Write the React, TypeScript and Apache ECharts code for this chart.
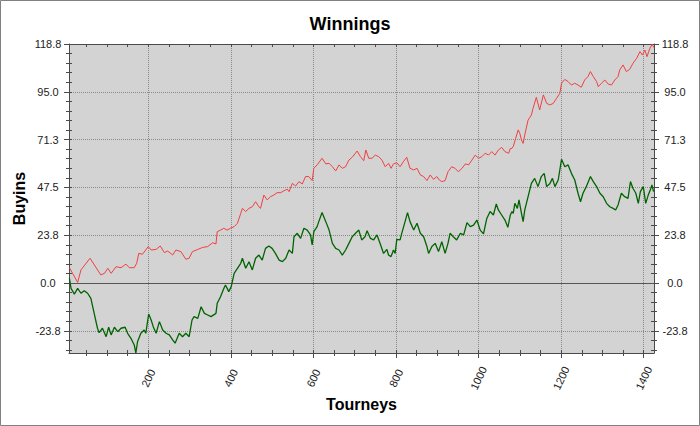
import React, { useEffect, useRef } from 'react';
import * as echarts from 'echarts';

const TITLE = 'Winnings';
const X_NAME = 'Tourneys';
const Y_NAME = 'Buyins';

const X_MIN = 8;
const X_MAX = 1425;
const Y_MIN = -34.8;
const Y_MAX = 118.8;

const X_TICKS = [200, 400, 600, 800, 1000, 1200, 1400];
const X_MINOR_STEP = 50;
const Y_TICKS = [-23.76, 0, 23.76, 47.52, 71.28, 95.04, 118.8];
const Y_MINOR_DIV = 5;

// [tourney, buyins]
const RED_SERIES: [number, number][] = [
  [9, 7.6], [29, 0.3], [37, 6.5], [59, 12.3], [85, 4.0], [94, 4.8], [102, 7.3], [110, 4.8], [122, 8.1], [134, 7.6],
  [146, 9.4], [154, 7.6], [166, 7.6], [172, 9.8], [177, 14.7], [186, 14.3], [200, 18.1], [207, 16.4], [219, 16.7], [229, 18.4],
  [239, 15.1], [247, 15.9], [259, 13.9], [267, 16.4], [279, 15.6], [291, 11.8], [299, 12.3], [307, 15.6], [320, 16.7], [332, 17.7],
  [344, 18.1], [356, 20.0], [364, 19.4],
  [367, 25.5], [375, 26.3], [383, 27.2], [391, 26.3], [399, 27.2], [408, 28.0], [416, 29.7], [424, 34.6], [428, 37.1], [436, 35.5],
  [444, 37.1], [452, 37.9], [460, 40.4], [468, 37.9], [472, 37.1], [480, 43.7], [488, 41.3], [496, 42.9], [504, 43.7], [512, 44.9],
  [521, 44.9], [529, 45.9], [537, 46.6], [541, 45.4], [549, 49.5], [557, 48.2], [565, 50.4], [573, 49.2], [581, 52.9], [589, 52.9],
  [597, 50.9], [601, 57.0], [609, 58.7], [621, 62.0], [630, 59.2], [638, 59.5], [646, 57.8], [654, 55.7], [662, 58.7], [670, 57.0],
  [678, 57.8], [686, 61.1], [694, 62.5], [706, 65.6], [714, 62.8], [722, 60.8],
  [727, 66.1], [734, 62.0], [742, 62.0], [750, 63.6], [758, 62.8], [766, 61.1], [774, 57.8], [782, 59.5], [788, 57.0], [794, 59.2],
  [802, 59.8], [810, 57.8], [818, 60.3], [826, 62.5], [834, 57.0], [843, 56.2], [851, 57.0], [859, 53.7], [867, 52.9], [875, 50.9],
  [883, 53.7], [891, 51.5], [899, 52.9], [905, 51.2], [911, 50.4], [919, 50.9], [926, 55.3], [935, 57.8], [943, 57.0], [951, 55.3],
  [960, 57.0], [968, 59.2], [976, 58.7], [984, 61.1], [992, 63.6], [1000, 62.0], [1008, 62.8], [1016, 64.5], [1024, 63.6], [1032, 65.3],
  [1040, 63.6], [1048, 66.1], [1056, 67.4], [1064, 65.3], [1073, 64.5], [1077, 66.9], [1081, 66.9],
  [1084, 67.8], [1090, 71.9], [1096, 76.1], [1100, 74.4], [1104, 71.1], [1108, 69.4], [1112, 73.6], [1120, 81.0], [1128, 83.5], [1132, 86.8],
  [1140, 92.3], [1148, 86.0], [1157, 93.5], [1165, 89.3], [1173, 88.5], [1181, 89.3], [1189, 91.8], [1197, 94.3], [1201, 99.3], [1209, 101.2],
  [1217, 100.1], [1225, 98.4], [1233, 99.3], [1241, 98.4], [1249, 97.3], [1257, 100.9], [1265, 102.6], [1271, 105.1], [1278, 102.6], [1286, 100.1],
  [1290, 97.6], [1298, 99.3], [1306, 100.9], [1314, 98.9], [1322, 98.4], [1330, 100.9], [1338, 102.6], [1342, 105.9], [1350, 108.4], [1358, 105.1],
  [1366, 106.2], [1374, 109.2], [1383, 111.7], [1391, 115.0], [1397, 113.3], [1403, 115.8], [1408, 112.5], [1415, 116.7], [1421, 118.8], [1424, 117.1],
];

const GREEN_SERIES: [number, number][] = [
  [9, 2.3], [13, -2.7], [21, -5.5], [29, -2.7], [37, -5.1], [45, -3.8], [53, -5.1], [61, -7.6], [69, -15.1], [77, -22.5],
  [81, -24.7], [89, -22.5], [98, -26.7], [104, -22.0], [110, -25.8], [118, -22.0], [126, -24.2], [134, -22.5], [144, -22.0], [150, -25.0],
  [158, -27.5], [166, -30.8], [170, -34.8], [174, -29.2], [182, -25.0], [190, -23.4], [194, -25.0], [201, -15.4], [207, -18.4], [212, -21.7],
  [219, -25.0], [227, -19.2], [235, -23.4], [243, -25.0], [251, -25.8], [259, -28.3], [265, -29.9], [275, -25.0], [283, -26.7], [291, -25.0],
  [299, -26.7], [306, -18.4], [311, -16.7], [320, -17.6], [328, -11.8], [336, -15.1], [344, -15.9], [352, -16.7], [364, -15.1],
  [367, -10.1], [375, -6.8], [383, -2.7], [387, -1.0], [395, -4.3], [401, -1.8], [408, 4.8], [416, 7.3], [424, 9.8], [428, 12.3],
  [436, 7.3], [444, 10.6], [452, 6.5], [460, 12.3], [468, 13.9], [476, 11.4], [484, 17.2], [492, 18.4], [500, 17.2], [508, 14.7],
  [517, 11.4], [525, 10.6], [533, 12.3], [541, 16.4], [549, 14.7], [553, 23.0], [561, 24.7], [569, 22.2], [577, 27.2], [585, 26.3],
  [593, 23.9], [597, 18.9], [601, 25.5], [609, 28.0], [613, 30.5], [621, 35.0], [630, 30.5], [638, 26.3], [646, 19.7], [654, 17.2],
  [662, 16.4], [670, 13.9], [678, 16.4], [686, 19.7], [694, 23.0], [702, 24.7], [710, 26.3],
  [717, 21.4], [725, 23.0], [730, 26.0], [738, 22.2], [746, 21.4], [754, 23.9], [762, 19.4], [770, 14.7], [778, 16.7], [782, 13.9],
  [788, 13.1], [794, 16.4], [798, 14.7], [802, 21.7], [810, 21.4], [814, 24.7], [822, 30.5], [828, 35.0], [834, 30.5], [843, 26.3],
  [851, 29.7], [859, 24.7], [867, 23.0], [875, 18.1], [879, 14.7], [887, 18.1], [895, 19.7], [903, 15.6], [911, 20.5], [919, 14.7],
  [926, 19.7], [931, 24.7], [939, 23.0], [947, 21.4], [956, 24.7], [964, 23.9], [972, 30.0], [980, 28.0], [988, 28.8], [996, 31.3],
  [1004, 26.3], [1012, 24.4], [1020, 32.1], [1028, 35.5], [1036, 33.8], [1043, 39.3], [1048, 36.3], [1056, 33.8], [1064, 31.3], [1071, 27.7],
  [1077, 33.8], [1081, 35.5],
  [1084, 34.6], [1088, 39.6], [1094, 37.1], [1098, 41.3], [1104, 34.6], [1108, 30.5], [1112, 36.3], [1120, 42.9], [1128, 49.5], [1136, 52.0],
  [1144, 47.9], [1152, 52.9], [1159, 54.5], [1165, 47.9], [1173, 49.5], [1179, 52.0], [1185, 47.9], [1193, 51.2], [1201, 61.5], [1209, 57.8],
  [1217, 58.7], [1225, 54.5], [1233, 51.2], [1241, 44.6], [1247, 40.4], [1253, 44.6], [1261, 47.9], [1271, 52.9], [1278, 50.4], [1286, 47.9],
  [1294, 44.6], [1302, 42.9], [1310, 39.6], [1318, 37.9], [1326, 37.1], [1332, 36.3], [1338, 38.8], [1346, 44.6], [1354, 42.9], [1362, 42.1],
  [1368, 50.4], [1374, 47.1], [1381, 44.6], [1387, 39.6], [1392, 45.4], [1399, 47.9], [1405, 39.6], [1411, 43.7], [1416, 46.2], [1420, 48.7],
  [1424, 45.4],
];

const FONT = 'Liberation Sans, Arial, Helvetica, sans-serif';
const AX = '#4a4a4a';
const GRID_LINE = '#8a8a8a';

function xTickSets() {
  const all: number[] = [];
  const minor: number[] = [];
  for (let v = Math.ceil(X_MIN / X_MINOR_STEP) * X_MINOR_STEP; v <= X_MAX; v += X_MINOR_STEP) {
    all.push(v);
    if (X_TICKS.indexOf(v) < 0) minor.push(v);
  }
  return { all, minor };
}

function yTickSets() {
  const step = (Y_TICKS[1] - Y_TICKS[0]) / Y_MINOR_DIV;
  const all: number[] = [];
  const minor: number[] = [];
  for (let k = Math.ceil(Y_MIN / step); k * step <= Y_MAX + 1e-9; k++) {
    const v = Number((k * step).toFixed(4));
    all.push(v);
    if (k % Y_MINOR_DIV !== 0) minor.push(v);
  }
  return { all, minor };
}

export default function App() {
  const ref = useRef<HTMLDivElement>(null);

  useEffect(() => {
    if (!ref.current) return;
    const chart = echarts.init(ref.current, undefined, { renderer: 'svg' });
    const xs = xTickSets();
    const ys = yTickSets();

    const mkX = (position: string, ticks: number[], inside: boolean, len: number, line: boolean) => ({
      type: 'value',
      position,
      min: X_MIN,
      max: X_MAX,
      axisLine: { show: line, onZero: false, lineStyle: { color: AX, width: 1 } },
      axisTick: { show: true, customValues: ticks, inside, length: len, lineStyle: { color: AX, width: 1 } },
      axisLabel: { show: false },
      splitLine: { show: false },
      minorTick: { show: false },
      minorSplitLine: { show: false },
    });
    const mkY = (position: string, ticks: number[], inside: boolean, len: number, line: boolean) => ({
      type: 'value',
      position,
      min: Y_MIN,
      max: Y_MAX,
      axisLine: { show: line, onZero: false, lineStyle: { color: AX, width: 1 } },
      axisTick: { show: true, customValues: ticks, inside, length: len, lineStyle: { color: AX, width: 1 } },
      axisLabel: { show: false },
      splitLine: { show: false },
      minorTick: { show: false },
      minorSplitLine: { show: false },
    });

    const yLabel = {
      show: true,
      customValues: Y_TICKS,
      align: 'center',
      margin: 21,
      fontSize: 11,
      color: '#222',
      fontFamily: FONT,
      formatter: (v: number) => v.toFixed(1),
    };

    const option: any = {
      animation: false,
      backgroundColor: '#ffffff',
      textStyle: { fontFamily: FONT },
      title: {
        text: TITLE,
        left: 'center',
        top: 10,
        textStyle: { fontSize: 18, fontWeight: 'bold', color: '#000', fontFamily: FONT },
      },
      grid: {
        left: 69,
        right: 46,
        top: 44,
        bottom: 73,
        show: true,
        backgroundColor: '#d3d3d3',
        borderWidth: 0,
        containLabel: false,
        outerBoundsMode: 'none',
      },
      xAxis: [
        {
          ...mkX('bottom', X_TICKS, false, 5, true),
          splitLine: { show: true, lineStyle: { type: 'dotted', color: GRID_LINE, width: 1 } },
          axisLabel: {
            show: true,
            customValues: X_TICKS,
            rotate: 65,
            align: 'center',
            verticalAlign: 'middle',
            margin: 25,
            fontSize: 11,
            color: '#222',
            fontFamily: FONT,
            formatter: (v: number) => String(v),
          },
          name: X_NAME,
          nameLocation: 'middle',
          nameGap: 43,
          nameMoveOverlap: false,
          nameTextStyle: { fontSize: 16, fontWeight: 'bold', color: '#000', fontFamily: FONT },
        },
        mkX('bottom', xs.minor, false, 3, false),
        mkX('bottom', xs.all, true, 3, false),
        mkX('top', xs.all, true, 3, true),
      ],
      yAxis: [
        {
          ...mkY('left', Y_TICKS, false, 5, true),
          splitLine: { show: true, lineStyle: { type: 'dotted', color: GRID_LINE, width: 1 } },
          axisLabel: yLabel,
          name: Y_NAME,
          nameLocation: 'middle',
          nameGap: 42,
          nameMoveOverlap: false,
          nameTextStyle: { fontSize: 16, fontWeight: 'bold', color: '#000', fontFamily: FONT },
        },
        mkY('left', ys.minor, false, 3, false),
        mkY('left', ys.all, true, 3, false),
        { ...mkY('right', Y_TICKS, false, 5, true), axisLabel: yLabel },
        mkY('right', ys.minor, false, 3, false),
        mkY('right', ys.all, true, 3, false),
      ],
      series: [
        {
          type: 'line',
          xAxisIndex: 0,
          yAxisIndex: 0,
          data: RED_SERIES,
          showSymbol: false,
          symbol: 'none',
          lineStyle: { color: '#f04040', width: 1 },
          z: 3,
        },
        {
          type: 'line',
          xAxisIndex: 0,
          yAxisIndex: 0,
          data: GREEN_SERIES,
          showSymbol: false,
          symbol: 'none',
          lineStyle: { color: '#006400', width: 1.3 },
          z: 4,
          markLine: {
            silent: true,
            symbol: 'none',
            label: { show: false },
            lineStyle: { type: 'solid', color: '#555555', width: 1 },
            data: [{ yAxis: 0 }],
            z: 2,
          },
        },
      ],
      graphic: [
        {
          type: 'rect',
          shape: { x: 0.5, y: 0.5, width: 699, height: 425 },
          style: { fill: 'none', stroke: '#808080', lineWidth: 1 },
          silent: true,
          z: 100,
        },
      ],
    };

    chart.setOption(option);
    return () => chart.dispose();
  }, []);

  return (
    <div
      ref={ref}
      style={{ position: 'fixed', left: 0, top: 0, width: 700, height: 426 }}
    />
  );
}
